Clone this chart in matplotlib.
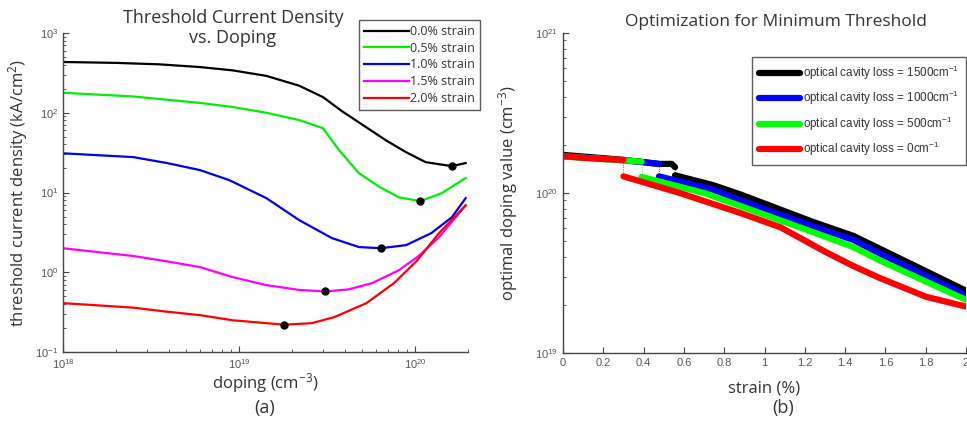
import matplotlib
matplotlib.use('Agg')
import matplotlib.pyplot as plt
from matplotlib.ticker import LogLocator, FixedLocator, FormatStrFormatter

# ---- panel (a): threshold current density vs doping ----
strain_labels = ['0.0% strain', '0.5% strain', '1.0% strain', '1.5% strain', '2.0% strain']
strain_colors = ['#000000', '#00ee00', '#0000ee', '#ff00ff', '#ff0000']

dop_black = [1e18, 2e18, 3.5e18, 6e18, 9.2e18, 1.43e19, 2.2e19, 3e19, 3.86e19, 5.27e19,
             6.85e19, 8.9e19, 1.15e20, 1.62e20, 1.94e20]
j_black = [433, 422, 405, 374, 340, 290, 218, 157, 104, 66, 45, 32, 24, 21.4, 23.4]

dop_green = [1e18, 2.5e18, 6e18, 9.2e18, 1.43e19, 2.2e19, 3e19, 3.7e19, 4.8e19, 6.3e19,
             8.1e19, 1.07e20, 1.42e20, 1.94e20]
j_green = [178, 160, 133, 118, 100, 81, 64, 34, 17.5, 11.7, 8.7, 7.8, 9.8, 15.2]

dop_blue = [1e18, 2.5e18, 3.9e18, 6e18, 8.8e18, 1.43e19, 2.2e19, 3.37e19, 4.8e19, 6.4e19,
            8.9e19, 1.24e20, 1.62e20, 1.94e20]
j_blue = [31, 27.8, 23.4, 19.1, 14.3, 8.5, 4.5, 2.68, 2.07, 2.0, 2.19, 3.1, 4.9, 8.5]

dop_mag = [1e18, 2.5e18, 3.9e18, 6e18, 9.2e18, 1.43e19, 2.2e19, 3.1e19, 4.2e19, 5.7e19,
           8.1e19, 1.05e20, 1.37e20, 1.94e20]
j_mag = [2.0, 1.6, 1.37, 1.16, 0.87, 0.69, 0.60, 0.575, 0.61, 0.73, 1.06, 1.6, 2.75, 6.9]

dop_red = [1e18, 2.5e18, 3.9e18, 6e18, 9.2e18, 1.43e19, 1.8e19, 2.6e19, 3.5e19, 5.3e19,
           7.6e19, 1.03e20, 1.37e20, 1.94e20]
j_red = [0.41, 0.36, 0.32, 0.29, 0.25, 0.23, 0.22, 0.23, 0.275, 0.41, 0.73, 1.41, 3.1, 6.9]

# optimum (minimum threshold) points
opt_dop = [1.62e20, 1.07e20, 6.4e19, 3.1e19, 1.8e19]
opt_j = [21.4, 7.8, 2.0, 0.575, 0.22]

# ---- panel (b): optimal doping vs strain ----
loss_labels = ['optical cavity loss = 1500cm$^{-1}$', 'optical cavity loss = 1000cm$^{-1}$',
               'optical cavity loss = 500cm$^{-1}$', 'optical cavity loss = 0cm$^{-1}$']
loss_colors = ['#000000', '#0000ff', '#00ff00', '#ff0000']

# upper branch (before the jump)
up_s_black = [0, 0.1, 0.2, 0.3, 0.4, 0.476, 0.54, 0.556]
up_d_black = [1.73e20, 1.69e20, 1.65e20, 1.61e20, 1.56e20, 1.52e20, 1.52e20, 1.45e20]
up_s_blue = [0, 0.1, 0.2, 0.3, 0.39, 0.476]
up_d_blue = [1.70e20, 1.67e20, 1.64e20, 1.60e20, 1.56e20, 1.52e20]
up_s_green = [0, 0.1, 0.2, 0.3, 0.39]
up_d_green = [1.69e20, 1.66e20, 1.63e20, 1.60e20, 1.57e20]
up_s_red = [0, 0.1, 0.2, 0.30]
up_d_red = [1.70e20, 1.66e20, 1.63e20, 1.61e20]

# lower branch (after the jump)
lo_s_black = [0.556, 0.745, 0.88, 1.24, 1.44, 1.57, 1.8, 2.0]
lo_d_black = [1.29e20, 1.12e20, 9.8e19, 6.6e19, 5.4e19, 4.5e19, 3.25e19, 2.45e19]
lo_s_blue = [0.476, 0.745, 0.88, 1.24, 1.44, 1.57, 1.8, 2.0]
lo_d_blue = [1.27e20, 1.05e20, 9.0e19, 6.2e19, 5.1e19, 4.2e19, 3.05e19, 2.3e19]
lo_s_green = [0.39, 0.7, 0.88, 1.24, 1.44, 1.57, 1.8, 2.0]
lo_d_green = [1.26e20, 1.0e20, 8.3e19, 5.7e19, 4.6e19, 3.8e19, 2.8e19, 2.15e19]
lo_s_red = [0.30, 0.58, 0.88, 1.08, 1.3, 1.44, 1.57, 1.8, 2.0]
lo_d_red = [1.27e20, 1.0e20, 7.5e19, 6.1e19, 4.3e19, 3.5e19, 2.95e19, 2.25e19, 1.95e19]

plt.rcParams['font.family'] = ['Open Sans', 'DejaVu Sans']
plt.rcParams['mathtext.default'] = 'regular'

fig = plt.figure(figsize=(9.67, 4.30), dpi=100)
tick_col = '#555555'
lab_col = '#333333'


def style_axes(ax):
    for side in ['top', 'right']:
        ax.spines[side].set_visible(False)
    for side in ['left', 'bottom']:
        ax.spines[side].set_color('#444444')
        ax.spines[side].set_linewidth(1.0)
    ax.tick_params(which='both', direction='in', colors='#444444', labelcolor=tick_col)
    ax.tick_params(which='major', length=4, labelsize=8)
    ax.tick_params(which='minor', length=2)
    for lab in ax.get_xticklabels() + ax.get_yticklabels():
        lab.set_family('Liberation Sans')


# panel (a)
ax1 = fig.add_axes([63 / 967, 1 - 352 / 430, 405 / 967, 319 / 430])
curves = [(dop_black, j_black), (dop_green, j_green), (dop_blue, j_blue),
          (dop_mag, j_mag), (dop_red, j_red)]
for (x, y), col, lab in zip(curves, strain_colors, strain_labels):
    ax1.plot(x, y, color=col, lw=1.6, label=lab)
ax1.plot(opt_dop, opt_j, 'o', color='black', ms=5, zorder=5)
ax1.set_xscale('log')
ax1.set_yscale('log')
ax1.set_xlim(1e18, 2e20)
ax1.set_ylim(1e-1, 1e3)
ax1.xaxis.set_major_locator(LogLocator(base=10, numticks=10))
ax1.yaxis.set_major_locator(LogLocator(base=10, numticks=10))
style_axes(ax1)
ax1.set_xlabel('doping (cm$^{-3}$)', fontsize=12, color=lab_col, labelpad=0)
ax1.set_ylabel('threshold current density (kA/cm$^{2}$)', fontsize=12, color=lab_col, labelpad=4)
fig.text(233 / 967, 1 - 28 / 430, 'Threshold Current Density\nvs. Doping', fontsize=13,
         color=lab_col, ha='center', va='center', linespacing=1.15)
leg1 = ax1.legend(loc='upper right', bbox_to_anchor=(480 / 967, 1 - 20 / 430),
                  bbox_transform=fig.transFigure, fontsize=9, frameon=True, fancybox=False,
                  handlelength=3.6, handletextpad=0.1, borderpad=0.4, labelspacing=0.3,
                  borderaxespad=0)
leg1.get_frame().set_edgecolor('#333333')
leg1.get_frame().set_linewidth(1.0)
for t in leg1.get_texts():
    t.set_color(lab_col)

# panel (b)
ax2 = fig.add_axes([563 / 967, 1 - 353 / 430, 403 / 967, 320 / 430])
ups = [(up_s_black, up_d_black), (up_s_blue, up_d_blue), (up_s_green, up_d_green), (up_s_red, up_d_red)]
los = [(lo_s_black, lo_d_black), (lo_s_blue, lo_d_blue), (lo_s_green, lo_d_green), (lo_s_red, lo_d_red)]
for (us, ud), (ls, ld), col, lab in zip(ups, los, loss_colors, loss_labels):
    ax2.plot(us, ud, color=col, lw=4.5, solid_capstyle='round')
    ax2.plot([us[-1], ls[0]], [ud[-1], ld[0]], color=col, lw=0.6, ls=':')
    ax2.plot(ls, ld, color=col, lw=4.5, solid_capstyle='round', label=lab)
ax2.set_yscale('log')
ax2.set_xlim(0, 2)
ax2.set_ylim(1e19, 1e21)
ax2.xaxis.set_major_locator(FixedLocator([0, 0.2, 0.4, 0.6, 0.8, 1, 1.2, 1.4, 1.6, 1.8, 2]))
ax2.xaxis.set_major_formatter(FormatStrFormatter('%g'))
style_axes(ax2)
ax2.set_xlabel('strain (%)', fontsize=12, color=lab_col, labelpad=9)
ax2.set_ylabel('optimal doping value (cm$^{-3}$)', fontsize=12, color=lab_col, labelpad=11)
fig.text(776 / 967, 1 - 22 / 430, 'Optimization for Minimum Threshold', fontsize=12.5,
         color=lab_col, ha='center', va='center')
leg2 = ax2.legend(loc='upper right', bbox_to_anchor=(0.999, 1 - 57 / 430),
                  bbox_transform=fig.transFigure, frameon=True, fancybox=False,
                  prop={'family': 'Liberation Sans', 'size': 8.4},
                  handlelength=3.5, handletextpad=0.25, borderpad=0.6, labelspacing=0.6,
                  borderaxespad=0)
leg2.get_frame().set_edgecolor('#333333')
leg2.get_frame().set_linewidth(1.0)
for t in leg2.get_texts():
    t.set_color(lab_col)

fig.text(265 / 967, 1 - 408 / 430, '(a)', fontsize=13, color=lab_col, ha='center', va='center')
fig.text(783 / 967, 1 - 408 / 430, '(b)', fontsize=13, color=lab_col, ha='center', va='center')

fig.savefig('out.png', dpi=100)
